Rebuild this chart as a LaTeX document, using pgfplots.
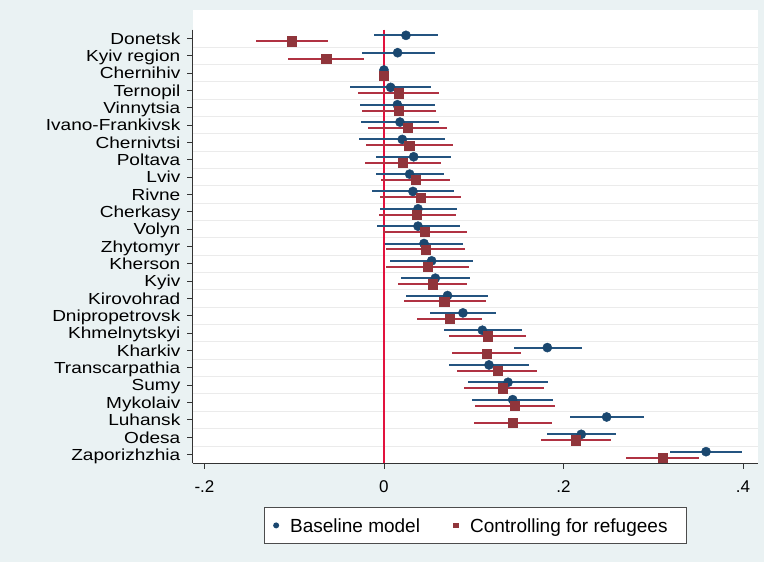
\documentclass[border=0pt]{standalone}
\usepackage{fontspec}
\setmainfont{Liberation Sans}
\newfontfamily\labfont{Liberation Sans}[FakeStretch=1.19]
\usepackage{pgfplots}
\usepackage{pgfplotstable}
\pgfplotsset{compat=1.18}

\definecolor{bgout}{RGB}{234,242,243}
\definecolor{navy}{RGB}{26,71,111}
\definecolor{navyci}{RGB}{36,84,128}
\definecolor{maroon}{RGB}{144,53,59}
\definecolor{maroonci}{RGB}{176,50,66}
\definecolor{zeroline}{RGB}{226,18,62}

% Regional coefficients with 95% CIs: baseline (1) and refugee-controlled (2)
\pgfplotstableread{
row b1      lo1      hi1     b2      lo2      hi2
1   0.0245  -0.0110  0.0605  -0.1025 -0.1426  -0.0620
2   0.0152  -0.0249  0.0572  -0.0643 -0.1066  -0.0219
3   0       0        0       0       0        0
4   0.0074  -0.0375  0.0527  0.0163  -0.0290  0.0616
5   0.0149  -0.0264  0.0564  0.0167  -0.0245  0.0583
6   0.0178  -0.0253  0.0616  0.0264  -0.0175  0.0698
7   0.0204  -0.0275  0.0683  0.0282  -0.0201  0.0765
8   0.0331  -0.0089  0.0750  0.0212  -0.0208  0.0632
9   0.0286  -0.0093  0.0672  0.0349  -0.0033  0.0735
10  0.0323  -0.0130  0.0776  0.0409  -0.0045  0.0858
11  0.0379  -0.0048  0.0817  0.0364  -0.0060  0.0802
12  0.0379  -0.0082  0.0847  0.0457  -0.0015  0.0929
13  0.0446  0.0015   0.0884  0.0464  0.0022   0.0903
14  0.0531  0.0067   0.0988  0.0483  0.0026   0.0943
15  0.0572  0.0190   0.0955  0.0542  0.0160   0.0921
16  0.0708  0.0247   0.1160  0.0672  0.0219   0.1137
17  0.0880  0.0518   0.1248  0.0733  0.0370   0.1096
18  0.1096  0.0669   0.1534  0.1155  0.0724   0.1582
19  0.1820  0.1452   0.2202  0.1144  0.0754   0.1530
20  0.1170  0.0728   0.1619  0.1263  0.0813   0.1708
21  0.1382  0.0936   0.1824  0.1326  0.0891   0.1779
22  0.1434  0.0984   0.1887  0.1456  0.1010   0.1902
23  0.2481  0.2069   0.2893  0.1434  0.0999   0.1875
24  0.2198  0.1813   0.2581  0.2132  0.1749   0.2526
25  0.3588  0.3187   0.3993  0.3105  0.2696   0.3513
}\coefs

\begin{document}
\begin{tikzpicture}
\fill[bgout] (0,0) rectangle (764pt,562pt);
\begin{axis}[
  at={(192.7pt,98.7pt)}, anchor=south west,
  scale only axis, width=565.3pt, height=453.3pt,
  xmin=-0.2131, xmax=0.4167, ymin=-0.631, ymax=25.5, y dir=reverse,
  axis background/.style={fill=white},
  axis line style={draw=none},
  clip=false,
  tick align=outside, major tick length=5.5pt,
  tick style={black!80, line width=0.9pt},
  xtick={-0.2,0,0.2,0.4}, xticklabels={-.2,0,.2,.4}, xtick pos=bottom,
  xticklabel style={font=\fontsize{17}{17}\selectfont, inner sep=0pt,
    text height=12.2pt, text depth=0pt, anchor=north, yshift=-11.5pt},
  ytick={1,...,25}, ytick pos=left,
  yticklabels={Donetsk,Kyiv region,Chernihiv,Ternopil,Vinnytsia,Ivano-Frankivsk,
    Chernivtsi,Poltava,Lviv,Rivne,Cherkasy,Volyn,Zhytomyr,Kherson,Kyiv,Kirovohrad,
    Dnipropetrovsk,Khmelnytskyi,Kharkiv,Transcarpathia,Sumy,Mykolaiv,Luhansk,Odesa,
    Zaporizhzhia},
  yticklabel style={font=\labfont\fontsize{16}{16}\selectfont, inner sep=0pt,
    text height=11.5pt, text depth=0pt, anchor=east, xshift=-6.7pt},
  minor ytick={1.5,2.5,...,24.5}, minor tick length=0pt, yminorgrids,
  minor grid style={black!8, line width=0.9pt},
  legend columns=2,
  legend style={at={(0.5,-0.0964)}, anchor=north, draw=black!70,
    line width=0.8pt, fill=white, inner xsep=9pt, inner ysep=11.2pt,
    font=\fontsize{19}{19}\selectfont,
    nodes={inner sep=0pt, text height=13.6pt, text depth=0pt},
    /tikz/every even column/.append style={column sep=33pt}},
]
% axis lines: bottom spans the full region, left spans the category range
\draw[black!80, line width=0.9pt] (axis cs:-0.2131,25.5) -- (axis cs:0.4167,25.5);
\draw[black!80, line width=0.9pt] (axis cs:-0.2131,0.5) -- (axis cs:-0.2131,25.5);

% reference line at zero
\addplot[zeroline, line width=1.6pt, forget plot] coordinates {(0,0.5) (0,25.5)};

% baseline model
\addplot[only marks, mark=*, mark size=4.6pt, navy, forget plot,
  error bars/.cd, x dir=both, x explicit, error mark=none,
  error bar style={navyci, line width=2pt}]
  table[x=b1, y expr=\thisrow{row}-0.17,
        x error plus expr=\thisrow{hi1}-\thisrow{b1},
        x error minus expr=\thisrow{b1}-\thisrow{lo1}] {\coefs};

% controlling for refugees
\addplot[only marks, mark=square*, mark size=4.6pt, maroon, forget plot,
  error bars/.cd, x dir=both, x explicit, error mark=none,
  error bar style={maroonci, line width=2pt}]
  table[x=b2, y expr=\thisrow{row}+0.17,
        x error plus expr=\thisrow{hi2}-\thisrow{b2},
        x error minus expr=\thisrow{b2}-\thisrow{lo2}] {\coefs};

% legend keys: small dot and small square
\addlegendimage{legend image code/.code={
  \path[draw=none, fill=none] (0pt,-3pt) rectangle (17pt,3pt);
  \fill[navy, draw=none] (3pt,0pt) circle[radius=3pt];}}
\addlegendentry{Baseline model}
\addlegendimage{legend image code/.code={
  \path[draw=none, fill=none] (0pt,-3pt) rectangle (17pt,3pt);
  \fill[maroon, draw=none] (0.1pt,-2.9pt) rectangle (5.9pt,2.9pt);}}
\addlegendentry{Controlling for refugees\hspace*{10pt}}
\end{axis}
\end{tikzpicture}
\end{document}
